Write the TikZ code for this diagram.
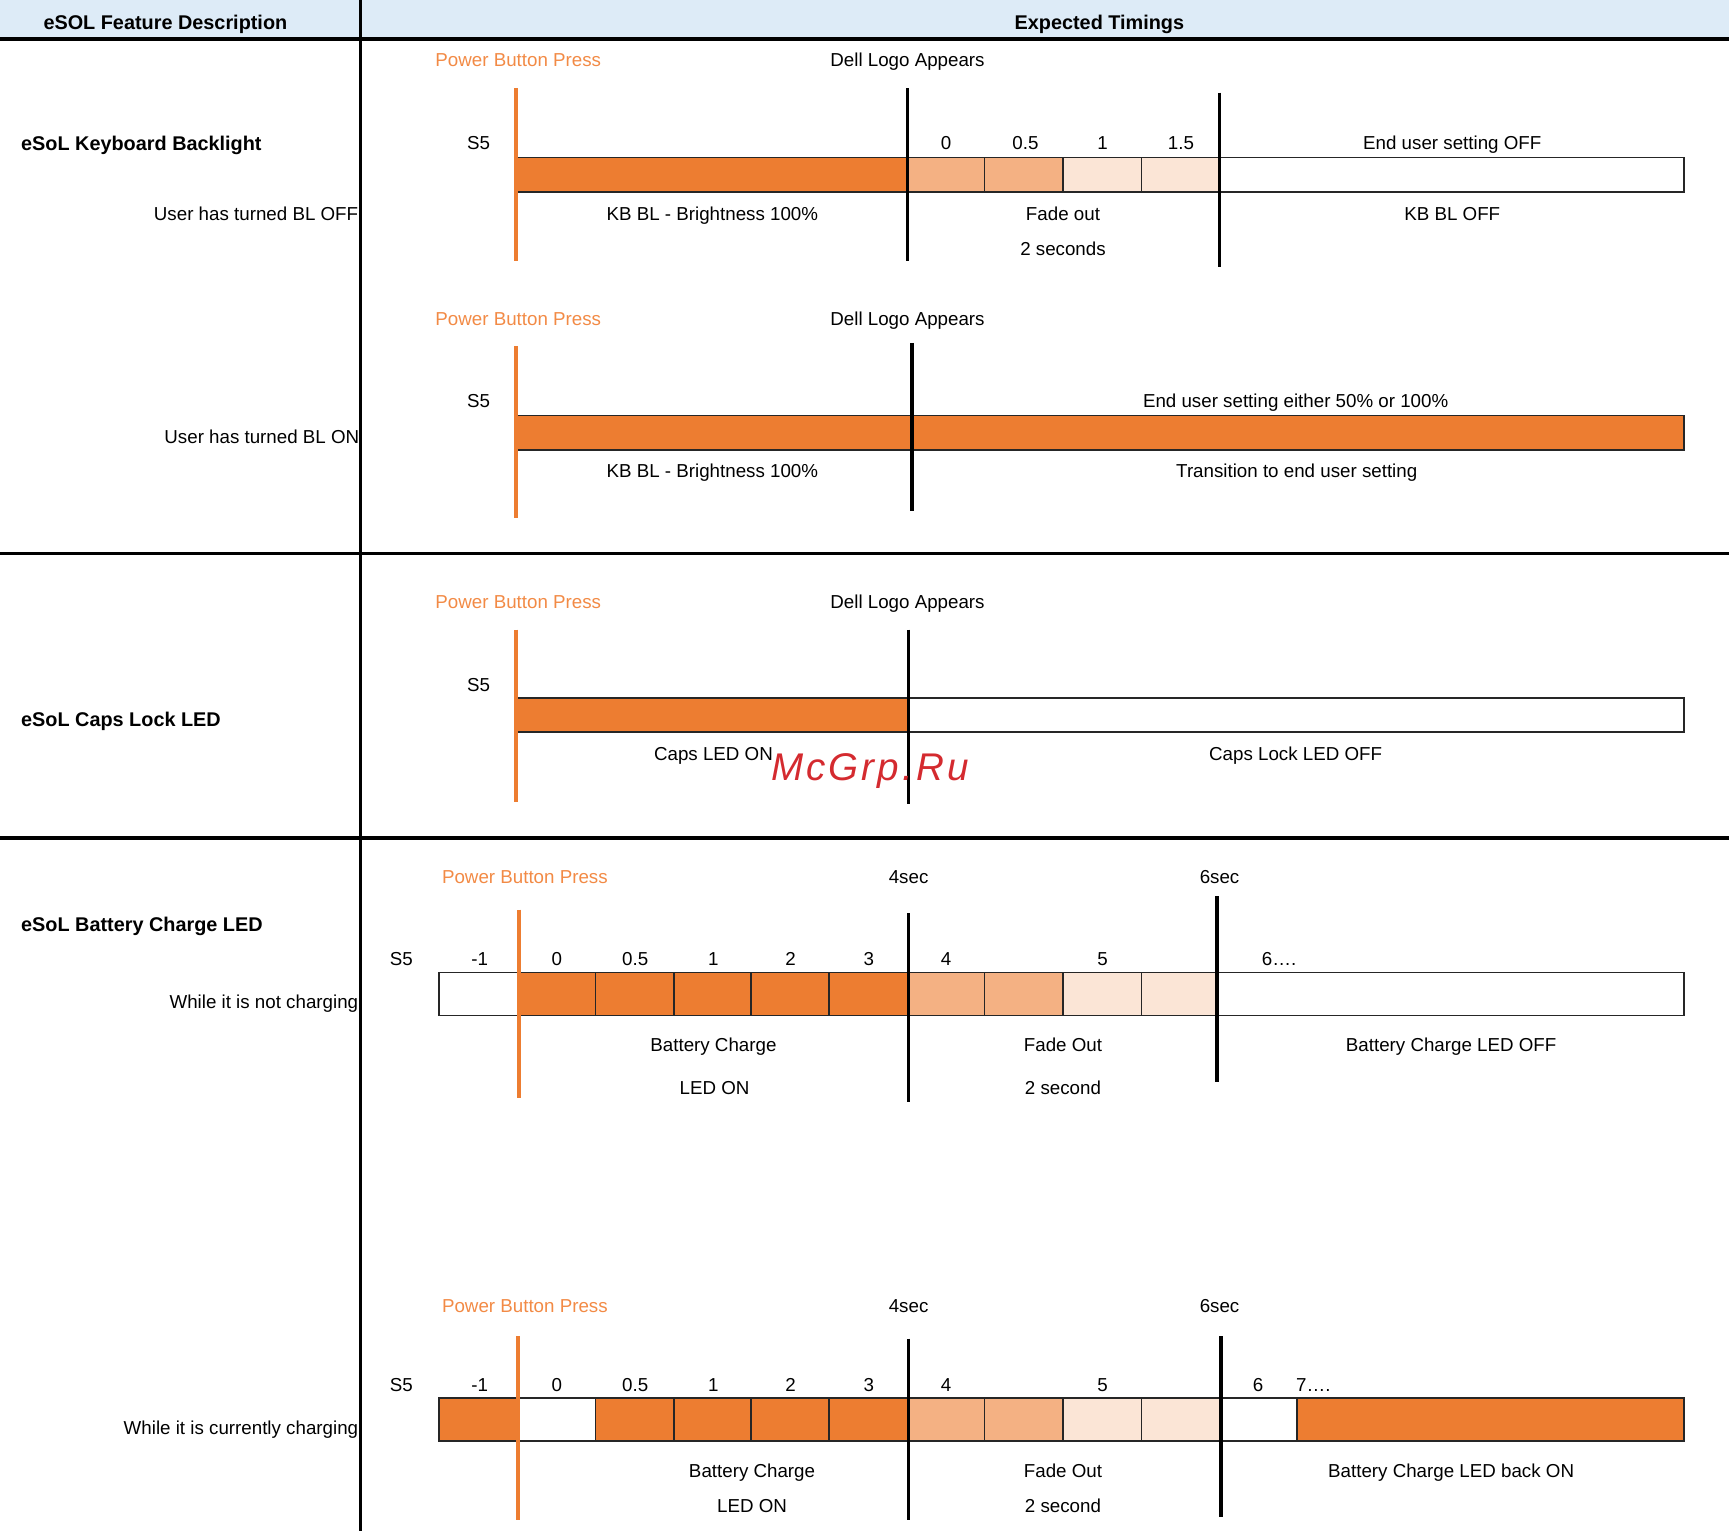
\documentclass[tikz,border=0pt]{standalone}
\usepackage{fontspec}
\setmainfont{Liberation Sans}
\newfontfamily\wmfont[LetterSpace=8]{Liberation Sans}
\definecolor{orng}{HTML}{ED7D31}
\definecolor{lorng}{HTML}{F4B183}
\definecolor{vlorng}{HTML}{FBE5D6}
\definecolor{pbp}{HTML}{F28A45}
\definecolor{hdr}{HTML}{DDEBF7}
\definecolor{wm}{HTML}{D42A2F}
\begin{document}
\begin{tikzpicture}[x=1pt,y=-1pt,
  lbl/.style={inner sep=0pt, text height=12pt, text depth=0pt, font=\fontsize{17}{20}\selectfont},
  pbtxt/.style={lbl, text=pbp},
  boldlbl/.style={inner sep=0pt, text height=13pt, text depth=0pt, font=\fontsize{18}{21}\selectfont\bfseries},
  cell/.style={draw=black!85, line width=1.4pt},
  pbline/.style={draw=orng, line width=3.4pt},
  evline/.style={draw=black, line width=3.4pt},
  rule/.style={draw=black, line width=2.5pt}]
\useasboundingbox (0,0) rectangle (1568,1388);
% header
\fill[hdr] (0,0) rectangle (1568,35);
\node[boldlbl] (hfeat) at (150,20) {eSOL Feature Description};
\node[boldlbl] (htim) at (997,20) {Expected Timings};
\coordinate (hl) at (0,35); \coordinate (hr) at (1568,35);
\draw[draw=black, line width=3.5pt] (hl) -- (hr);
\coordinate (dt) at (327,0); \coordinate (db) at (327,1388);
\draw[draw=black, line width=2.5pt] (dt) -- (db);
\coordinate (s1l) at (0,502); \coordinate (s1r) at (1568,502);
\draw[rule] (s1l) -- (s1r);
\coordinate (s2l) at (0,760); \coordinate (s2r) at (1568,760);
\draw[rule, line width=3.5pt] (s2l) -- (s2r);

% ---------- Section 1: BL OFF
\node[boldlbl, anchor=west] (f1) at (19,130) {eSoL Keyboard Backlight};
\node[lbl, anchor=east] (r1) at (325,194) {User has turned BL OFF};
\node[pbtxt] (pb1) at (470,54) {Power Button Press};
\node[lbl] (dl1) at (823,54) {Dell Logo Appears};
\node[lbl] (s51) at (434,130) {S5};
\path[cell,fill=orng] (468,143) rectangle (823,174);
\foreach \a/\b/\c in {823/893/lorng,893/964/lorng,964/1035/vlorng,1035/1106/vlorng}
  \path[cell,fill=\c] (\a,143) rectangle (\b,174);
\path[cell,fill=white] (1106,143) rectangle (1527,174);
\node[lbl] (t1a) at (858,130) {0};
\node[lbl] (t1b) at (930,130) {0.5};
\node[lbl] (t1c) at (1000,130) {1};
\node[lbl] (t1d) at (1071,130) {1.5};
\node[lbl] (e1) at (1317,130) {End user setting OFF};
\node[lbl] (k1) at (646,194) {KB BL - Brightness 100\%};
\node[lbl] (fo1) at (964,194) {Fade out};
\node[lbl] (tw1) at (964,226) {2 seconds};
\node[lbl] (off1) at (1317,194) {KB BL OFF};
\coordinate (p1t) at (468,80); \coordinate (p1b) at (468,237);
\draw[pbline] (p1t) -- (p1b);
\coordinate (a1t) at (823,80); \coordinate (a1b) at (823,237);
\draw[evline] (a1t) -- (a1b);
\coordinate (b1t) at (1106,84); \coordinate (b1b) at (1106,242);
\draw[evline] (b1t) -- (b1b);

% ---------- Section 2: BL ON
\node[lbl, anchor=east] (r2) at (326,396) {User has turned BL ON};
\node[pbtxt] (pb2) at (470,289) {Power Button Press};
\node[lbl] (dl2) at (823,289) {Dell Logo Appears};
\node[lbl] (s52) at (434,364) {S5};
\path[cell,fill=orng] (468,377) rectangle (1527,408);
\node[lbl] (e2) at (1175,364) {End user setting either 50\% or 100\%};
\node[lbl] (k2) at (646,427) {KB BL - Brightness 100\%};
\node[lbl] (tr2) at (1176,427) {Transition to end user setting};
\coordinate (p2t) at (468,314); \coordinate (p2b) at (468,470);
\draw[pbline] (p2t) -- (p2b);
\coordinate (a2t) at (827,311); \coordinate (a2b) at (827,463);
\draw[evline] (a2t) -- (a2b);

% ---------- Section 3: Caps Lock
\node[boldlbl, anchor=west] (f3) at (19,652) {eSoL Caps Lock LED};
\node[pbtxt] (pb3) at (470,546) {Power Button Press};
\node[lbl] (dl3) at (823,546) {Dell Logo Appears};
\node[lbl] (s53) at (434,621) {S5};
\path[cell,fill=orng] (468,633) rectangle (824,664);
\path[cell,fill=white] (824,633) rectangle (1527,664);
\node[lbl] (c3) at (647,684) {Caps LED ON};
\node[lbl] (co3) at (1175,684) {Caps Lock LED OFF};
\coordinate (p3t) at (468,571); \coordinate (p3b) at (468,727);
\draw[pbline] (p3t) -- (p3b);
\coordinate (a3t) at (824,571); \coordinate (a3b) at (824,729);
\draw[evline] (a3t) -- (a3b);

% ---------- Section 4: Battery not charging
\node[boldlbl, anchor=west] (f4) at (19,838) {eSoL Battery Charge LED};
\node[lbl, anchor=east] (r4) at (325,909) {While it is not charging};
\node[pbtxt] (pb4) at (476,795) {Power Button Press};
\node[lbl] (fs4) at (824,795) {4sec};
\node[lbl] (ss4) at (1106,795) {6sec};
\node[lbl] (s54) at (364,870) {S5};
\foreach \x/\t [count=\i] in {435/-1,505/0,576/0.5,647/1,717/2,788/3,858/4,1000/5}
  \node[lbl] (t4-\i) at (\x,870) {\t};
\node[lbl] (t4-9) at (1160,870) {6\dots.};
\path[cell,fill=white] (398,882) rectangle (470,921);
\foreach \a/\b/\c in {470/540/orng,540/611/orng,611/681/orng,681/752/orng,752/824/orng,824/893/lorng,893/964/lorng,964/1035/vlorng,1035/1105/vlorng}
  \path[cell,fill=\c] (\a,882) rectangle (\b,921);
\path[cell,fill=white] (1105,882) rectangle (1527,921);
\node[lbl] (bc4) at (647,948) {Battery Charge};
\node[lbl] (lo4) at (648,987) {LED ON};
\node[lbl] (fo4) at (964,948) {Fade Out};
\node[lbl] (tw4) at (964,987) {2 second};
\node[lbl] (off4) at (1316,948) {Battery Charge LED OFF};
\coordinate (p4t) at (471,825); \coordinate (p4b) at (471,996);
\draw[pbline] (p4t) -- (p4b);
\coordinate (a4t) at (824,828); \coordinate (a4b) at (824,999);
\draw[evline] (a4t) -- (a4b);
\coordinate (b4t) at (1104,813); \coordinate (b4b) at (1104,981);
\draw[evline] (b4t) -- (b4b);

% ---------- Section 5: Battery charging
\node[lbl, anchor=east] (r5) at (325,1295) {While it is currently charging};
\node[pbtxt] (pb5) at (476,1184) {Power Button Press};
\node[lbl] (fs5) at (824,1184) {4sec};
\node[lbl] (ss5) at (1106,1184) {6sec};
\node[lbl] (s55) at (364,1256) {S5};
\foreach \x/\t [count=\i] in {435/-1,505/0,576/0.5,647/1,717/2,788/3,858/4,1000/5,1141/6}
  \node[lbl] (t5-\i) at (\x,1256) {\t};
\node[lbl] (t5-10) at (1191,1256) {7\dots.};
\foreach \a/\b/\c in {398/470/orng,470/540/white,540/611/orng,611/681/orng,681/752/orng,752/824/orng,824/893/lorng,893/964/lorng,964/1035/vlorng,1035/1107/vlorng,1107/1176/white,1176/1527/orng}
  \path[cell,fill=\c] (\a,1268) rectangle (\b,1307);
\node[lbl] (bc5) at (682,1334) {Battery Charge};
\node[lbl] (lo5) at (682,1366) {LED ON};
\node[lbl] (fo5) at (964,1334) {Fade Out};
\node[lbl] (tw5) at (964,1366) {2 second};
\node[lbl] (on5) at (1316,1334) {Battery Charge LED back ON};
\coordinate (p5t) at (470,1212); \coordinate (p5b) at (470,1378);
\draw[pbline] (p5t) -- (p5b);
\coordinate (a5t) at (824,1214); \coordinate (a5b) at (824,1378);
\draw[evline] (a5t) -- (a5b);
\coordinate (b5t) at (1107,1212); \coordinate (b5b) at (1107,1376);
\draw[evline] (b5t) -- (b5b);

% watermark
\node[inner sep=0pt, text height=25pt, text depth=0pt, text=wm, font=\wmfont\itshape\fontsize{35}{40}\selectfont] (wmk) at (789,695) {McGrp.Ru};
\end{tikzpicture}
\end{document}
